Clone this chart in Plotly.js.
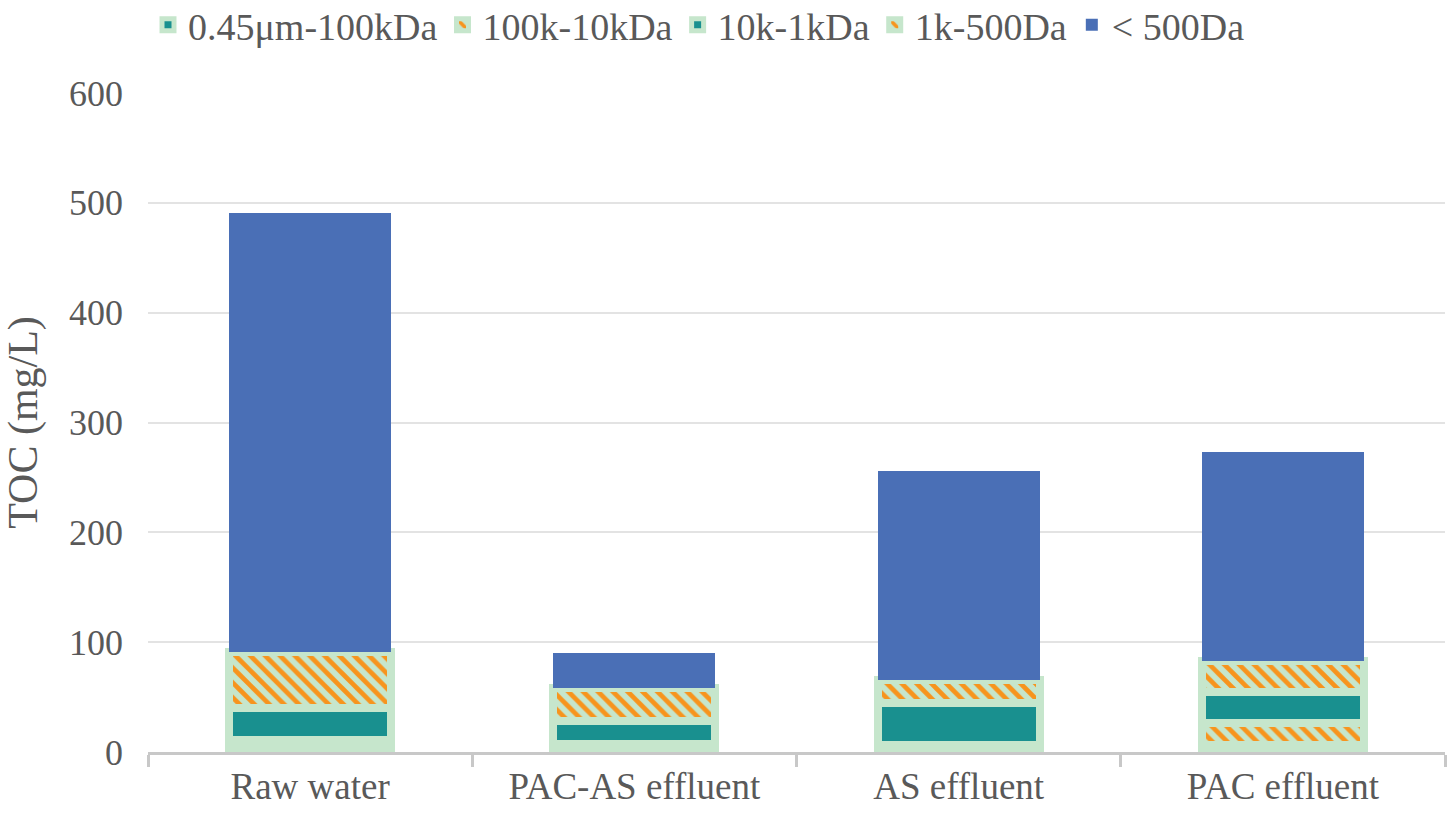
<!DOCTYPE html>
<html>
<head>
<meta charset="utf-8">
<script src="https://cdn.plot.ly/plotly-3.0.1.min.js"></script>
<style>
  html, body { margin: 0; padding: 0; background: #ffffff; }
  #chart { width: 1451px; height: 815px; }
</style>
</head>
<body>
<div id="chart"></div>
<script>
// Categories and series values (mg/L TOC)
const categories = ['Raw water', 'PAC-AS effluent', 'AS effluent', 'PAC effluent'];
const seriesNames = ['0.45μm-100kDa', '100k-10kDa', '10k-1kDa', '1k-500Da', '< 500Da'];
const s_045um_100kDa = [6, 7, 6, 6];
const s_100k_10kDa   = [5, 0, 0, 20];
const s_10k_1kDa     = [29, 21, 39, 29];
const s_1k_500Da     = [51, 30, 21, 28];
const s_lt500Da      = [400, 32, 190, 190];
const yTicks = [0, 100, 200, 300, 400, 500, 600];

const TEAL = '#19908F';
const LGREEN = '#C6E6CC';
const ORANGE = '#F7941D';
const BLUE = '#4A6FB6';
const FONT = '"Liberation Serif", "Times New Roman", serif';
const BORDER = 8;

function solidTrace(name, values) {
  return {
    type: 'bar', name: name, x: categories, y: values,
    marker: { color: TEAL, line: { color: LGREEN, width: BORDER } },
    hoverinfo: 'x+y+name'
  };
}
function patternTrace(name, values) {
  return {
    type: 'bar', name: name, x: categories, y: values,
    marker: {
      color: LGREEN,
      line: { color: LGREEN, width: BORDER },
      pattern: { shape: '\\', fgcolor: ORANGE, bgcolor: LGREEN, size: 10.5, solidity: 0.45 }
    },
    hoverinfo: 'x+y+name'
  };
}

const data = [
  solidTrace(seriesNames[0], s_045um_100kDa),
  patternTrace(seriesNames[1], s_100k_10kDa),
  solidTrace(seriesNames[2], s_10k_1kDa),
  patternTrace(seriesNames[3], s_1k_500Da),
  {
    type: 'bar', name: seriesNames[4], x: categories, y: s_lt500Da,
    marker: { color: BLUE, line: { width: 0 } },
    hoverinfo: 'x+y+name'
  }
];

const layout = {
  width: 1451, height: 815,
  margin: { l: 148, r: 6, t: 93, b: 63, autoexpand: false },
  paper_bgcolor: '#ffffff', plot_bgcolor: '#ffffff',
  barmode: 'stack',
  bargap: 0.5,
  font: { family: FONT, color: '#595959' },
  showlegend: true,
  legend: {
    orientation: 'h', traceorder: 'normal',
    x: 0, xanchor: 'left',
    yref: 'paper', y: 1.151, yanchor: 'top',
    font: { family: FONT, size: 38, color: '#595959' },
    bgcolor: 'rgba(0,0,0,0)'
  },
  xaxis: {
    type: 'category',
    tickson: 'boundaries',
    ticks: 'outside', ticklen: 12, tickwidth: 3, tickcolor: '#C8C8C8',
    showline: true, linecolor: '#C8C8C8', linewidth: 3,
    showgrid: false, zeroline: false,
    tickfont: { family: FONT, size: 37, color: '#595959' }
  },
  yaxis: {
    range: [0, 600],
    tickvals: yTicks,
    ticktext: yTicks.map(String),
    showgrid: true, gridcolor: '#E3E3E3', gridwidth: 2,
    zeroline: false, showline: false, ticks: '',
    ticklabelstandoff: 24,
    tickfont: { family: FONT, size: 36, color: '#595959' },
    title: { text: 'TOC (mg/L)', font: { family: FONT, size: 42, color: '#595959' }, standoff: 18 },
    automargin: false
  }
};

Plotly.newPlot('chart', data, layout, { staticPlot: true, displayModeBar: false });
</script>
</body>
</html>
